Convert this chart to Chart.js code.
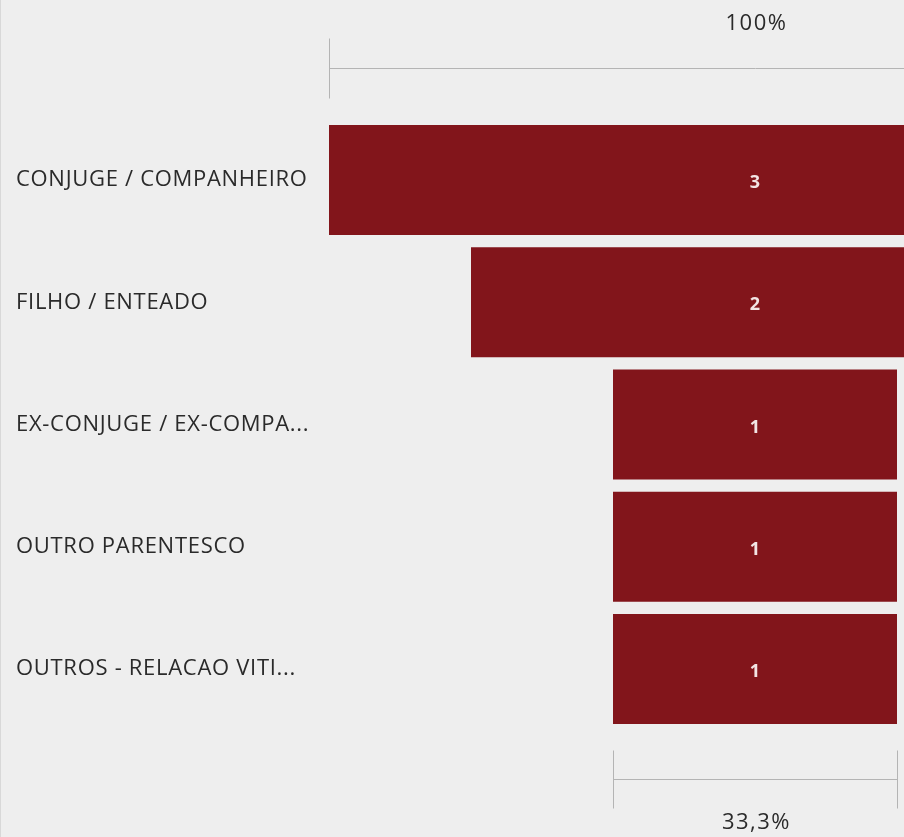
<!DOCTYPE html>
<html>
<head>
<meta charset="utf-8">
<script src="https://cdn.jsdelivr.net/npm/chart.js@4.4.0/dist/chart.umd.min.js"></script>
<style>
  html, body { margin: 0; padding: 0; background: #eeeeee; overflow: hidden; }
  #wrap { position: relative; width: 1190px; height: 837px; border-left: 1px solid #d8d8d8; box-sizing: border-box; }
</style>
</head>
<body>
<div id="wrap"><canvas id="funnelChart"></canvas></div>
<script>
// --- chart data ---
const categories = [
    'CONJUGE / COMPANHEIRO',
    'FILHO / ENTEADO',
    'EX-CONJUGE / EX-COMPA...',
    'OUTRO PARENTESCO',
    'OUTROS - RELACAO VITI...'
];
const counts = [3, 2, 1, 1, 1];
const topPctLabel = '100%';
const bottomPctLabel = '33,3%';

const barColor = '#82151b';
const rulerColor = '#b4b4b4';

// funnel bars are centred on zero
const funnelData = counts.map(v => [-v / 2, v / 2]);

// wider text spacing, closer to the original font
const textSpacing = {
    id: 'textSpacing',
    beforeDraw(chart) {
        chart.ctx.save();
        chart.ctx.letterSpacing = '0.7px';
    },
    afterDraw(chart) {
        chart.ctx.restore();
    }
};

// draws the value in each bar and the two percent rulers
const funnelExtras = {
    id: 'funnelExtras',
    afterDatasetsDraw(chart) {
        const ctx = chart.ctx;
        const meta = chart.getDatasetMeta(0);
        ctx.save();
        ctx.letterSpacing = '0px';
        ctx.font = 'bold 18px "Open Sans"';
        ctx.fillStyle = '#f3e4e4';
        ctx.textAlign = 'center';
        ctx.textBaseline = 'middle';
        meta.data.forEach((bar, i) => {
            const cx = (bar.x + bar.base) / 2;
            ctx.fillText(String(counts[i]), cx, bar.y + 3);
        });
        ctx.restore();
    },
    afterDraw(chart) {
        const ctx = chart.ctx;
        const x = chart.scales.x;
        const area = chart.chartArea;
        const first = counts[0];
        const last = counts[counts.length - 1];

        ctx.save();
        ctx.strokeStyle = rulerColor;
        ctx.lineWidth = 1;

        // top ruler (first stage)
        const tl = Math.round(x.getPixelForValue(-first / 2)) + 0.5;
        const tr = Math.round(x.getPixelForValue(first / 2)) + 0.5;
        const ty = Math.round(area.top - 51) + 0.5;
        ctx.beginPath();
        ctx.moveTo(tl, ty); ctx.lineTo(tr, ty);
        ctx.moveTo(tl, ty - 30); ctx.lineTo(tl, ty + 30);
        ctx.moveTo(tr, ty - 30); ctx.lineTo(tr, ty + 30);
        ctx.stroke();

        // bottom ruler (last stage)
        const bl = Math.round(x.getPixelForValue(-last / 2)) + 0.5;
        const br = Math.round(x.getPixelForValue(last / 2)) + 0.5;
        const by = Math.round(area.bottom + 49) + 0.5;
        ctx.beginPath();
        ctx.moveTo(bl, by); ctx.lineTo(br, by);
        ctx.moveTo(bl, by - 29); ctx.lineTo(bl, by + 29);
        ctx.moveTo(br, by - 29); ctx.lineTo(br, by + 29);
        ctx.stroke();

        ctx.letterSpacing = '1.5px';
        ctx.font = '22px "Open Sans"';
        ctx.fillStyle = '#2a2a2a';
        ctx.textAlign = 'center';
        ctx.textBaseline = 'middle';
        ctx.fillText(topPctLabel, (tl + tr) / 2 + 1, ty - 45);
        ctx.fillText(bottomPctLabel, (bl + br) / 2 + 1, by + 43);
        ctx.restore();
    }
};

let funnelChart;

function initChart() {
    const ctx = document.getElementById('funnelChart').getContext('2d');
    funnelChart = new Chart(ctx, {
        type: 'bar',
        data: {
            labels: categories,
            datasets: [{
                data: funnelData,
                backgroundColor: barColor,
                borderWidth: 0,
                borderSkipped: false,
                barPercentage: 0.9,
                categoryPercentage: 1.0
            }]
        },
        options: {
            indexAxis: 'y',
            responsive: true,
            maintainAspectRatio: false,
            animation: false,
            layout: {
                padding: { left: 15, right: 9, top: 119, bottom: 107 }
            },
            scales: {
                x: {
                    display: false,
                    min: -1.5,
                    max: 1.5
                },
                y: {
                    grid: { display: false },
                    border: { display: false },
                    ticks: {
                        crossAlign: 'far',
                        color: '#2a2a2a',
                        padding: 0,
                        font: { family: '"Open Sans"', size: 22 }
                    },
                    afterFit(scale) {
                        scale.width = 313;
                    }
                }
            },
            plugins: {
                legend: { display: false },
                tooltip: { enabled: false }
            }
        },
        plugins: [textSpacing, funnelExtras]
    });
}

document.addEventListener('DOMContentLoaded', initChart);
</script>
</body>
</html>
